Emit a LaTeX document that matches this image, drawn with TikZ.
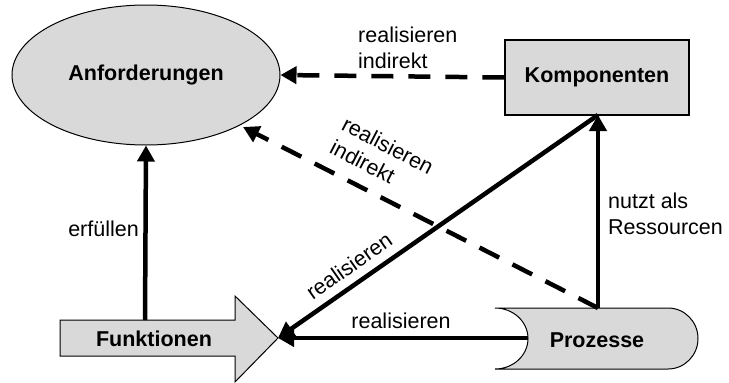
\documentclass[tikz,border=0pt]{standalone}
\usepackage{fontspec}
\setmainfont{Liberation Sans}
\usetikzlibrary{shapes.geometric,arrows.meta}
\definecolor{boxgray}{HTML}{D9D9D9}
\tikzset{
  every node/.style={font=\fontsize{21.5}{26}\selectfont},
  conn/.style={line width=4.5pt,-{Triangle[length=16pt,width=17pt]}},
  dconn/.style={conn,dash pattern=on 22pt off 15pt},
  lbl/.style={inner sep=0pt},
  shapefill/.style={fill=boxgray,draw=black,line width=1pt},
  title/.style={font=\fontsize{21.5}{26}\selectfont\bfseries}
}
\begin{document}
\begin{tikzpicture}[x=1pt,y=-1pt]
\useasboundingbox (0,0) rectangle (729,383);
% Anforderungen
\node[ellipse,shapefill,minimum width=268pt,minimum height=140pt,inner sep=0pt,title] (anf) at (146,75) {Anforderungen};
% Komponenten
\node[rectangle,shapefill,line width=1.3pt,minimum width=184pt,minimum height=75pt,inner sep=0pt,title] (komp) at (597,77.5) {Komponenten};
% Funktionen arrow shape
\draw[shapefill] (60,320) -- (235,320) -- (235,296) -- (278,338) -- (235,382) -- (235,356) -- (60,356) -- cycle;
\node[title,inner sep=0pt] (funk) at (154,339) {Funktionen};
\coordinate (ftip) at (278,338);
\coordinate (ftop) at (145,320);
% Prozesse shape
\draw[shapefill] (495,308) -- (668,308) arc[start angle=-90,end angle=90,x radius=30,y radius=30.5] -- (495,369) arc[start angle=90,end angle=-90,x radius=33,y radius=30.5] -- cycle;
\node[title,inner sep=0pt] (proz) at (597,340) {Prozesse};
\coordinate (ptop) at (598,308);
\coordinate (pleft) at (528,338);
\coordinate (kbot) at (598,115);
\coordinate (anfdiag) at (243,127);
% connectors
\draw[dconn] (komp.west) -- (anf.east);
\draw[dconn] (ptop) -- (anfdiag);
\draw[conn] (ftop) -- (anf.south);
\draw[conn] (ptop) -- (kbot);
\draw[conn] (kbot) -- (ftip);
\draw[conn] (pleft) -- (ftip);
% labels
\node[lbl,align=left,anchor=west] (l1) at (358,48) {realisieren\\indirekt};
\node[lbl,align=left,rotate=-27.5] (l2) at (382,157) {realisieren\\indirekt};
\node[lbl,anchor=east] (l3) at (139,229) {erfüllen};
\node[lbl,align=left,anchor=west] (l4) at (608,214) {nutzt als\\Ressourcen};
\node[lbl] (l5) at (401,321) {realisieren};
\node[lbl,rotate=35] (l6) at (349,266) {realisieren};
\end{tikzpicture}
\end{document}
